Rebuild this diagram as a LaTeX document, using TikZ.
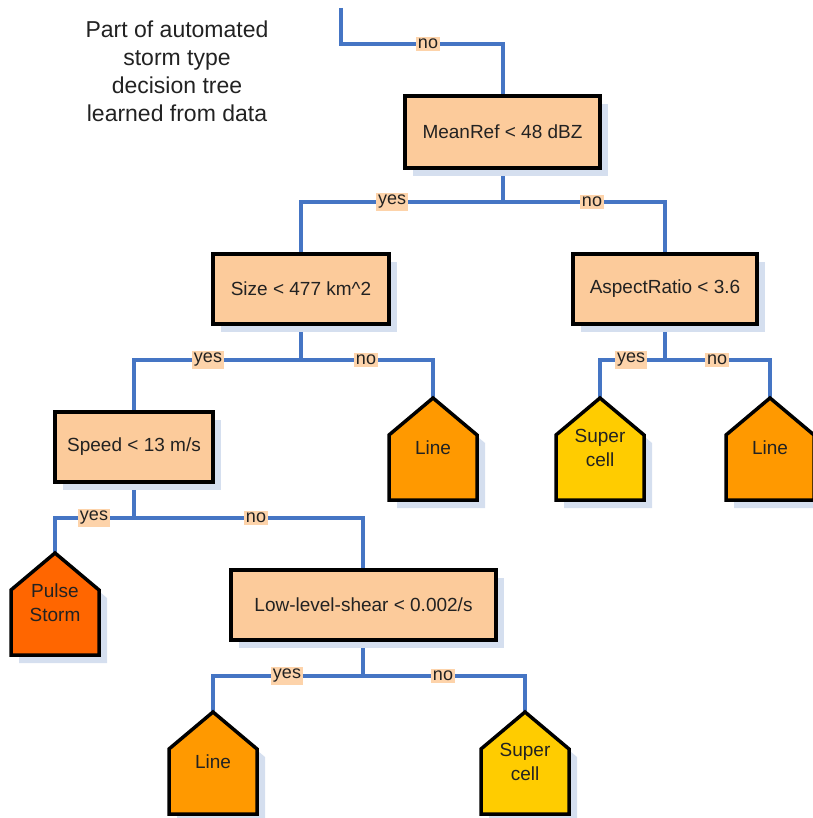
\documentclass[tikz,border=0pt]{standalone}
\usepackage{fontspec}
\setmainfont{Liberation Sans}
\usetikzlibrary{shadows}
\definecolor{peach}{HTML}{FCCB9B}
\definecolor{lblfill}{HTML}{FDD3AA}
\definecolor{conncol}{HTML}{4575C4}
\definecolor{shadowc}{HTML}{D5DFEF}
\definecolor{lineor}{HTML}{FF9900}
\definecolor{pulseor}{HTML}{FF6600}
\definecolor{supery}{HTML}{FFCC00}
\definecolor{txt}{HTML}{222222}
\tikzset{
  testbox/.style={draw=black, line width=3.5pt, fill=peach, text=txt,
    font=\fontsize{19}{22}\selectfont, inner sep=0pt,
    general shadow={fill=shadowc, shadow xshift=8pt, shadow yshift=-8pt}},
  conn/.style={draw=conncol, line width=3.6pt},
  lbl/.style={fill=lblfill, text=txt, inner sep=2pt, font=\fontsize{18}{20}\selectfont},
  housetext/.style={text=txt, align=center, font=\fontsize{19}{24}\selectfont},
  houseline/.style={draw=black, line width=3.5pt, line join=miter},
}
% #1 name, #2 x of peak, #3 y of peak, #4 fill colour, #5 text
\newcommand\househere[5]{%
  \fill[shadowc] (#2+8,#3+8) -- (#2+52,#3+45) -- (#2+52,#3+110) -- (#2-36,#3+110) -- (#2-36,#3+45) -- cycle;
  \filldraw[houseline, fill=#4] (#2,#3) -- (#2+44,#3+37) -- (#2+44,#3+102) -- (#2-44,#3+102) -- (#2-44,#3+37) -- cycle;
  \coordinate (#1) at (#2,#3);
  \node[housetext] (#1t) at (#2,#3+50) {#5};
}
\begin{document}
\begin{tikzpicture}[x=1pt,y=-1pt]
\useasboundingbox (0,0) rectangle (812,818);

% title
\node[align=center, text=txt, font=\fontsize{23}{28}\selectfont] (title) at (177,71)
  {Part of automated\\storm type\\decision tree\\learned from data};

% junction coordinates
\coordinate (start) at (341,8);
\coordinate (j0) at (341,44);
\coordinate (j1) at (503,202);
\coordinate (j2) at (301,360);
\coordinate (j3) at (665,360);
\coordinate (j4) at (134,518);
\coordinate (j5) at (363,676);

% connectors (drawn first so boxes cover ends)
\draw[conn] (start) -- (j0) -- (503,44) -- (503,100);
\draw[conn] (503,160) -- (j1);
\draw[conn] (301,262) |- (j1) -| (665,262);
\draw[conn] (301,320) -- (j2);
\draw[conn] (134,420) |- (j2) -| (433,400);
\draw[conn] (665,320) -- (j3);
\draw[conn] (600,400) |- (j3) -| (770,400);
\draw[conn] (134,478) -- (j4);
\draw[conn] (55,555) |- (j4) -| (363,578);
\draw[conn] (363,636) -- (j5);
\draw[conn] (213,714) |- (j5) -| (525,714);

% test boxes
\node[testbox, minimum width=195pt, minimum height=72pt] (mean) at (502.5,132) {MeanRef < 48 dBZ};
\node[testbox, minimum width=176pt, minimum height=70pt] (size) at (301,289) {Size < 477 km\^{}2};
\node[testbox, minimum width=184pt, minimum height=70pt] (aspect) at (665,289) {AspectRatio < 3.6};
\node[testbox, minimum width=158pt, minimum height=70pt] (speed) at (134,447) {Speed < 13 m/s};
\node[testbox, minimum width=265pt, minimum height=70pt] (shear) at (363.5,605) {Low-level-shear < 0.002/s};

% leaves
\househere{line1}{433}{398}{lineor}{Line}
\househere{sup1}{600}{398}{supery}{Super\\cell}
\househere{line2}{770}{398}{lineor}{Line}
\househere{pulse}{55}{553}{pulseor}{Pulse\\Storm}
\househere{line3}{213}{712}{lineor}{Line}
\househere{sup2}{525}{712}{supery}{Super\\cell}

% edge labels
\node[lbl] (l0) at (428,44) {no};
\node[lbl] (l1) at (392,202) {yes};
\node[lbl] (l2) at (592,202) {no};
\node[lbl] (l3) at (208,360) {yes};
\node[lbl] (l4) at (366,360) {no};
\node[lbl] (l5) at (631,360) {yes};
\node[lbl] (l6) at (717,360) {no};
\node[lbl] (l7) at (94,518) {yes};
\node[lbl] (l8) at (256,518) {no};
\node[lbl] (l9) at (287,676) {yes};
\node[lbl] (l10) at (443,676) {no};
\end{tikzpicture}
\end{document}
